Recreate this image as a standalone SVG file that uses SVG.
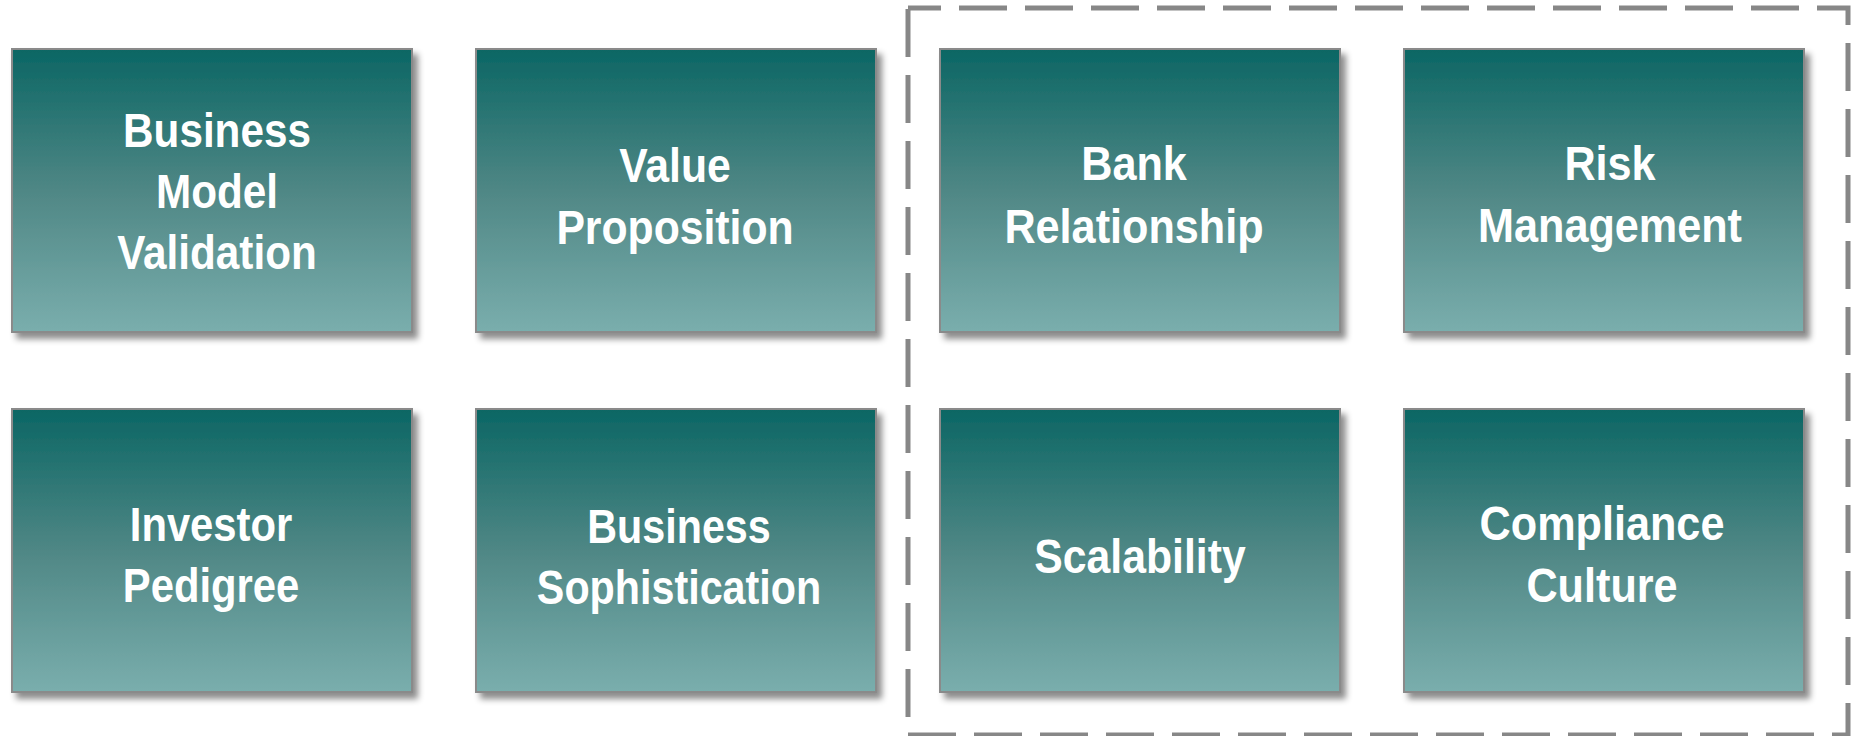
<svg xmlns="http://www.w3.org/2000/svg" width="1851" height="736" viewBox="0 0 1851 736">
<style>
.box{fill:url(#g);stroke:#8a8a8a;stroke-width:2;filter:url(#sh)}
.t{font-family:"Liberation Sans",Arial,sans-serif;font-weight:bold;font-size:48px;fill:#fff;text-anchor:middle}
.frame{fill:none;stroke:#878787;stroke-width:5;stroke-dasharray:48 18;stroke-dashoffset:15}
</style>
<defs>
<linearGradient id="g" x1="0" y1="0" x2="0" y2="1">
<stop offset="0" stop-color="#0b6664"/>
<stop offset="0.5" stop-color="#4f8785"/>
<stop offset="1" stop-color="#7aaead"/>
</linearGradient>
<filter id="sh" x="-5%" y="-5%" width="115%" height="120%">
<feDropShadow dx="5" dy="6" stdDeviation="3" flood-color="#000" flood-opacity="0.45"/>
</filter>
</defs>
<rect width="1851" height="736" fill="#fff"/>
<g id="connectors">
<path class="frame" d="M908,8 H1848 V735 H908 Z"/>
</g>
<g id="n1">
<rect class="box" x="12" y="49" width="400" height="283"/>
<g transform="translate(217,0) scale(0.88,1)">
<text class="t" x="0" y="147">Business</text>
<text class="t" x="0" y="208">Model</text>
<text class="t" x="0" y="269">Validation</text>
</g>
</g>
<g id="n2">
<rect class="box" x="476" y="49" width="400" height="283"/>
<g transform="translate(675,0) scale(0.89,1)">
<text class="t" x="0" y="182">Value</text>
<text class="t" x="0" y="244">Proposition</text>
</g>
</g>
<g id="n3">
<rect class="box" x="940" y="49" width="400" height="283"/>
<g transform="translate(1134,0) scale(0.9,1)">
<text class="t" x="0" y="180">Bank</text>
<text class="t" x="0" y="243">Relationship</text>
</g>
</g>
<g id="n4">
<rect class="box" x="1404" y="49" width="400" height="283"/>
<g transform="translate(1610,0) scale(0.9,1)">
<text class="t" x="0" y="180">Risk</text>
<text class="t" x="0" y="242">Management</text>
</g>
</g>
<g id="n5">
<rect class="box" x="12" y="409" width="400" height="283"/>
<g transform="translate(211,0) scale(0.87,1)">
<text class="t" x="0" y="541">Investor</text>
<text class="t" x="0" y="602">Pedigree</text>
</g>
</g>
<g id="n6">
<rect class="box" x="476" y="409" width="400" height="283"/>
<g transform="translate(679,0) scale(0.86,1)">
<text class="t" x="0" y="543">Business</text>
<text class="t" x="0" y="604">Sophistication</text>
</g>
</g>
<g id="n7">
<rect class="box" x="940" y="409" width="400" height="283"/>
<g transform="translate(1140,0) scale(0.89,1)">
<text class="t" x="0" y="573">Scalability</text>
</g>
</g>
<g id="n8">
<rect class="box" x="1404" y="409" width="400" height="283"/>
<g transform="translate(1602,0) scale(0.9,1)">
<text class="t" x="0" y="540">Compliance</text>
<text class="t" x="0" y="602">Culture</text>
</g>
</g>
</svg>
